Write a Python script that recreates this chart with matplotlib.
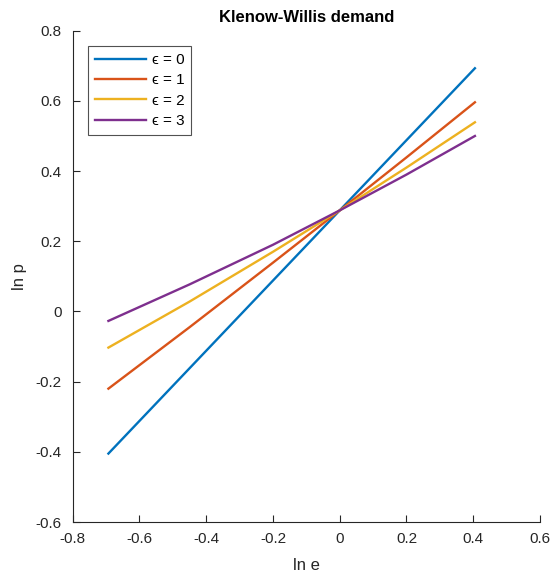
import matplotlib
matplotlib.use("Agg")
import matplotlib.pyplot as plt

plt.rcParams['font.family'] = ['Liberation Sans', 'DejaVu Sans']

# ln e grid and ln p values
ln_e = [-0.693, -0.45, -0.2, 0.0, 0.2, 0.405]
ln_p_eps0 = [-0.405, -0.162, 0.088, 0.288, 0.488, 0.693]
ln_p_eps1 = [-0.220, -0.045, 0.139, 0.288, 0.439, 0.596]
ln_p_eps2 = [-0.103, 0.028, 0.170, 0.288, 0.410, 0.539]
ln_p_eps3 = [-0.027, 0.077, 0.190, 0.288, 0.390, 0.500]

labels = ['\u03f5 = 0', '\u03f5 = 1', '\u03f5 = 2', '\u03f5 = 3']
colors = ['#0072BD', '#D95319', '#EDB120', '#7E2F8E']
series = [ln_p_eps0, ln_p_eps1, ln_p_eps2, ln_p_eps3]

W, H = 551, 575
fig = plt.figure(figsize=(W / 100, H / 100), dpi=100)
x0, x1, y0, y1 = 72.7, 540, 30.7, 522
ax = fig.add_axes([x0 / W, 1 - y1 / H, (x1 - x0) / W, (y1 - y0) / H])

for ys, lab, c in zip(series, labels, colors):
    ax.plot(ln_e, ys, color=c, lw=1.7, label=lab)

ax.set_xlim(-0.8, 0.6)
ax.set_ylim(-0.6, 0.8)
ax.set_xticks([-0.8, -0.6, -0.4, -0.2, 0, 0.2, 0.4, 0.6])
ax.set_xticklabels(['-0.8', '-0.6', '-0.4', '-0.2', '0', '0.2', '0.4', '0.6'])
ax.set_yticks([-0.6, -0.4, -0.2, 0, 0.2, 0.4, 0.6, 0.8])
ax.set_yticklabels(['-0.6', '-0.4', '-0.2', '0', '0.2', '0.4', '0.6', '0.8'])

gray = '#262626'
for s in ['top', 'right']:
    ax.spines[s].set_visible(False)
for s in ['left', 'bottom']:
    ax.spines[s].set_color(gray)
    ax.spines[s].set_linewidth(0.8)
ax.tick_params(direction='in', length=5, width=0.8, colors=gray, labelsize=11)
ax.tick_params(axis='y', pad=8)
ax.tick_params(axis='x', pad=7)

ax.set_xlabel('ln e', fontsize=12, color=gray, labelpad=9)
ax.set_ylabel('ln p', fontsize=12, color=gray, labelpad=6)
ax.set_title('Klenow-Willis demand', fontsize=12, fontweight='bold', color='black', pad=6)

lx = (88.3 - x0) / (x1 - x0)
ly = 1 - (46 - y0) / (y1 - y0)
leg = ax.legend(loc='upper left', bbox_to_anchor=(lx, ly), borderaxespad=0,
                fontsize=11, frameon=True, fancybox=False, edgecolor=gray,
                handlelength=3.3, handletextpad=0.4, labelspacing=0.42,
                borderpad=0.45)
leg.get_frame().set_linewidth(0.8)

fig.savefig('out.png', dpi=100)
